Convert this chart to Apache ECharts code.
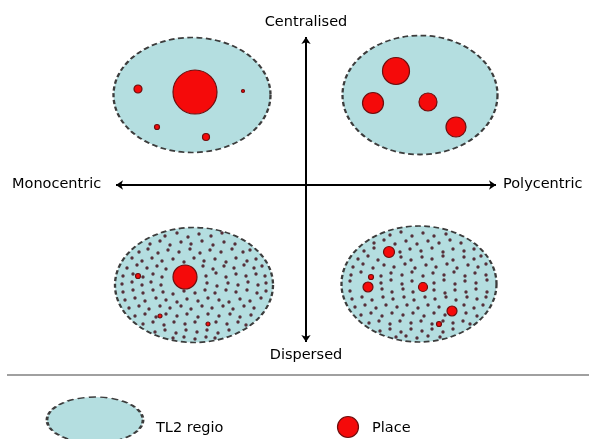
<!DOCTYPE html>
<html><head><meta charset="utf-8">
<script src="https://cdn.jsdelivr.net/npm/echarts@6/dist/echarts.min.js"></script>
<style>html,body{margin:0;padding:0;background:#fff}#c{width:589px;height:439px}</style>
</head><body><div id="c"></div>
<script>
// Regions (TL2 regio): [x, y, width, height] in diagram units
const regions = [[192,95,157,115],[420,95,155,119],[194,285,158,115],[419,284,155,116]];
const legendRegion = [[95,420,96,46]];
// Places: [x, y, diameter]
const placesCentralMono = [[195,92,44],[138,89,8],[157,127,5],[206,137,7],[243,91,3]];
const placesCentralPoly = [[396,71,27],[373,103,21],[428,102,18],[456,127,20]];
const placesDispersedMono = [[185,277,24],[138,276,5],[160,316,4],[208,324,4]];
const placesDispersedPoly = [[389,252,11],[368,287,10],[423,287,9],[452,311,10],[371,277,5],[439,324,5]];
const legendPlace = [[348,427,21]];
// Dispersed small settlements
const dotsMono = [
[165,236],[177,233],[188,237],[199,234],[211,236],[222,233],
[150,244],[160,241],[170,245],[181,242],[191,244],[202,241],[213,245],[224,242],[235,244],
[139,252],[148,249],[158,253],[168,250],[179,252],[190,249],[200,253],[210,250],[221,252],[232,249],[243,252],[250,250],
[132,258],[142,261],[152,258],[162,261],[173,259],[184,262],[194,258],[204,261],[215,259],[226,262],[236,258],[247,261],[256,259],
[127,268],[137,265],[147,268],[157,266],[166,269],[203,266],[213,269],[224,266],[234,268],[244,265],[254,268],[262,266],
[123,276],[133,274],[143,277],[153,274],[162,277],[206,276],[216,273],[226,277],[236,274],[246,276],[256,274],[265,276],
[122,284],[132,282],[142,285],[151,282],[161,285],[207,283],[217,286],[228,283],[238,285],[248,282],[258,285],[266,283],
[123,292],[133,290],[143,293],[153,290],[163,292],[173,294],[184,291],[195,293],[205,290],[215,293],[226,290],[236,292],[247,290],[257,293],[266,291],
[125,300],[135,298],[145,301],[156,298],[166,300],[177,302],[187,299],[198,301],[208,298],[219,300],[229,302],[240,299],[250,301],[261,298],
[129,308],[139,306],[149,309],[160,306],[170,308],[181,306],[191,309],[202,306],[212,308],[223,306],[233,309],[244,306],[254,308],
[135,316],[145,314],[156,317],[166,314],[177,316],[187,314],[198,317],[208,314],[219,316],[230,314],[240,317],[251,315],
[143,324],[153,322],[164,325],[174,322],[185,324],[195,322],[216,322],[227,324],[238,322],[246,325],
[155,332],[165,330],[176,333],[186,330],[197,332],[207,330],[218,333],[229,330],
[173,338],[184,337],[195,339],[206,337],[215,338]];
const dotsPoly = [
[390,235],[401,232],[412,236],[423,233],[434,236],[446,234],
[374,243],[384,240],[395,244],[406,241],[417,244],[428,241],[439,243],[450,240],[461,243],
[364,251],[374,248],[400,252],[410,249],[421,251],[432,248],[443,252],[453,249],[464,251],[474,249],
[358,259],[368,256],[378,260],[401,257],[411,260],[422,257],[432,259],[443,256],[453,260],[464,257],[474,259],[481,256],
[353,267],[363,264],[373,268],[384,265],[394,267],[405,264],[415,268],[426,265],[436,267],[447,264],[457,268],[468,265],[478,267],[486,264],
[351,275],[361,272],[381,276],[391,273],[402,275],[412,272],[423,276],[433,273],[444,275],[454,272],[465,276],[475,273],[486,275],
[350,281],[381,283],[391,280],[402,284],[412,281],[434,283],[444,280],[455,284],[465,281],[476,283],[487,280],
[350,291],[382,289],[392,292],[403,289],[413,292],[434,290],[445,293],[455,290],[466,292],[476,289],[487,292],
[352,299],[362,297],[372,300],[383,297],[393,299],[404,297],[414,300],[425,297],[435,299],[446,297],[456,300],[467,297],[477,299],[486,297],
[355,307],[365,305],[376,308],[386,305],[397,307],[407,305],[418,308],[428,305],[439,307],[464,305],[474,308],[483,305],
[361,315],[371,313],[382,316],[392,313],[403,315],[413,313],[424,316],[434,313],[445,315],[466,313],[477,316],
[369,323],[379,321],[390,324],[400,321],[411,323],[421,321],[432,324],[443,321],[453,323],[463,321],[470,324],
[380,331],[390,329],[401,332],[411,329],[422,331],[432,329],[443,332],[453,329],
[396,337],[406,336],[417,338],[428,336],[440,337]];
// Axis arrows: [x1,y1,x2,y2]
const axesArrows = [[116,185,496,185],[306,37,306,342]];
const separator = [[7,375,589,375]];
// Text labels: [x, y, text, align]
const labels = [[306,22,'Centralised','center'],[306,355,'Dispersed','center'],[12,184,'Monocentric','left'],[503,184,'Polycentric','left'],[156,428,'TL2 regio','left'],[372,428,'Place','left']];

const regionStyle = {color:'#b4dee0', borderColor:'#3c3c3c', borderWidth:2, borderType:[5,3], opacity:1};
const placeStyle = {color:'#f50a0a', borderColor:'#6e0e0e', borderWidth:1.2, opacity:1};

function regionSeries(arr){
  return {type:'scatter', silent:true, symbol:'circle', z:1,
    data: arr.map(r=>({value:[r[0],r[1]], symbolSize:[r[2],r[3]]})),
    itemStyle: regionStyle};
}
function placeSeries(arr){
  return {type:'scatter', silent:true, symbol:'circle', z:4,
    data: arr.map(p=>({value:[p[0],p[1]], symbolSize:p[2]})),
    itemStyle: placeStyle};
}
function dotSeries(arr){
  return {type:'scatter', silent:true, symbol:'circle', symbolSize:3.4, z:3,
    data: arr, itemStyle:{color:'#56303a', opacity:1}};
}

const chart = echarts.init(document.getElementById('c'), null, {renderer:'canvas'});
chart.setOption({
  animation:false,
  grid:{left:0,right:0,top:0,bottom:0},
  xAxis:{type:'value', min:0, max:589, show:false},
  yAxis:{type:'value', min:0, max:439, inverse:true, show:false},
  series:[
    regionSeries(regions),
    regionSeries(legendRegion),
    dotSeries(dotsMono),
    dotSeries(dotsPoly),
    placeSeries(placesCentralMono),
    placeSeries(placesCentralPoly),
    placeSeries(placesDispersedMono),
    placeSeries(placesDispersedPoly),
    placeSeries(legendPlace),
    {type:'lines', coordinateSystem:'cartesian2d', silent:true, z:2,
      symbol:['arrow','arrow'], symbolSize:7,
      lineStyle:{color:'#000', width:2, opacity:1},
      data: axesArrows.map(a=>({coords:[[a[0],a[1]],[a[2],a[3]]]}))},
    {type:'lines', coordinateSystem:'cartesian2d', silent:true, z:2,
      symbol:['none','none'],
      lineStyle:{color:'#808080', width:1.5, opacity:1},
      data: separator.map(a=>({coords:[[a[0],a[1]],[a[2],a[3]]]}))},
    {type:'scatter', silent:true, symbolSize:0, z:5,
      itemStyle:{opacity:1},
      data: labels.map(l=>({value:[l[0],l[1]], label:{show:true, formatter:l[2], position:'inside', align:l[3], verticalAlign:'middle'}})),
      label:{color:'#000', fontSize:14.5, fontFamily:'DejaVu Sans'}}
  ]
});
</script></body></html>
